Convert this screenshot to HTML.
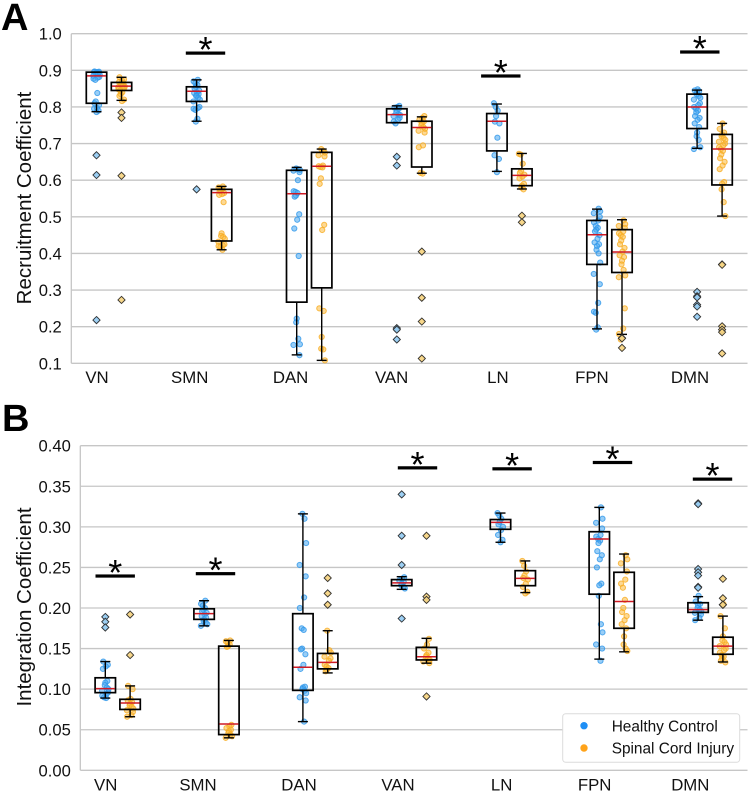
<!DOCTYPE html>
<html lang="en">
<head>
<meta charset="utf-8">
<title>Recruitment and Integration Coefficients</title>
<style>
html,body{margin:0;padding:0;background:#fff;}
body{width:750px;height:794px;overflow:hidden;}
svg{display:block;filter:blur(0.35px);font-family:"Liberation Sans",sans-serif;}
</style>
</head>
<body>
<svg id="chart" width="750" height="794" viewBox="0 0 750 794" xmlns="http://www.w3.org/2000/svg">
  <text x="1" y="30" font-size="38" font-weight="bold" fill="#000">A</text>
  <text x="2" y="431" font-size="38" font-weight="bold" fill="#000">B</text>
  <text transform="translate(31,198) rotate(-90)" text-anchor="middle" font-size="20.5" fill="#111">Recruitment Coefficient</text>
  <text transform="translate(31,607) rotate(-90)" text-anchor="middle" font-size="20.5" fill="#111">Integration Coefficient</text>
  <g id="panelA"></g>
  <g id="panelB"></g>
  <g>
    <rect x="562.7" y="713.7" width="177" height="48.6" rx="3" fill="#fff" stroke="#dcdcdc" stroke-width="1"/>
    <circle cx="584" cy="725.7" r="3.7" fill="#1f8ff5"/>
    <text x="611.7" y="731.3" font-size="15.4" fill="#111">Healthy Control</text>
    <circle cx="584" cy="748" r="3.7" fill="#ffa31a"/>
    <text x="611.7" y="753.6" font-size="15.4" fill="#111">Spinal Cord Injury</text>
  </g>
</svg>
<script>
const categories = ["VN","SMN","DAN","VAN","LN","FPN","DMN"];

const recruitTicks = [0.1,0.2,0.3,0.4,0.5,0.6,0.7,0.8,0.9,1.0];
const integrationTicks = [0,0.05,0.10,0.15,0.20,0.25,0.30,0.35,0.40];

// box summaries: [whisker low, q1, median, q3, whisker high]
const recruitHealthyBoxes = [
  [.787,.81,.885,.895,.895],[.761,.815,.843,.855,.874],[.123,.267,.563,.627,.635],
  [.757,.757,.779,.795,.803],[.624,.68,.761,.782,.808],[.194,.37,.451,.49,.521],[.687,.741,.8,.835,.846]];
const recruitInjuryBoxes = [
  [.818,.845,.857,.867,.881],[.41,.434,.566,.575,.583],[.108,.306,.638,.676,.685],
  [.619,.636,.744,.761,.773],[.576,.585,.613,.631,.673],[.179,.348,.404,.465,.492],[.502,.587,.685,.725,.755]];
const integrationHealthyBoxes = [
  [.089,.0957,.1006,.114,.134],[.178,.186,.193,.199,.209],[.06,.0985,.127,.193,.316],
  [.223,.2275,.231,.235,.2386],[.281,.297,.3055,.309,.317],[.137,.217,.285,.294,.324],[.185,.1946,.198,.2065,.214]];
const integrationInjuryBoxes = [
  [.066,.075,.083,.0875,.104],[.04,.044,.057,.153,.16],[.12,.125,.133,.144,.172],
  [.132,.136,.14,.1515,.1626],[.219,.2275,.2365,.246,.258],[.146,.175,.208,.244,.2665],[.1335,.143,.153,.164,.19]];

const recruitHealthyOutliers = [[.668,.614,.218],[.575],[],[.664,.64,.196,.192,.165],[],[],[.295,.283,.28,.26,.255,.227]];
const recruitInjuryOutliers = [[.785,.77,.612,.273],[],[],[.405,.279,.214,.113],[.503,.485],[.169,.168,.142],[.37,.369,.201,.192,.185,.127]];
const integrationHealthyOutliers = [[.189,.183,.176],[],[],[.34,.289,.253,.187],[],[],[.329,.328,.248,.244,.24,.226,.225]];
const integrationInjuryOutliers = [[.192,.142],[],[.237,.218,.204],[.289,.214,.21,.091],[],[],[.236,.212,.204,.204]];

const recruitHealthyPoints = [
  [.897,.896,.895,.895,.894,.893,.892,.89,.888,.885,.882,.88,.877,.874,.838,.815,.81,.805,.797,.795,.79,.786],
  [.874,.87,.865,.86,.855,.85,.845,.84,.838,.835,.832,.83,.825,.82,.815,.8,.797,.795,.792,.768,.76],
  [.632,.63,.628,.626,.622,.6,.57,.568,.565,.558,.555,.507,.492,.468,.393,.222,.212,.167,.152,.15,.122],
  [.803,.8,.798,.795,.79,.785,.78,.778,.775,.77,.765,.76,.755],
  [.81,.8,.79,.775,.76,.755,.716,.668,.658,.622],
  [.522,.515,.51,.5,.49,.485,.475,.47,.465,.46,.45,.44,.43,.425,.42,.41,.4,.375,.344,.316,.265,.241,.238,.198,.192],
  [.848,.845,.843,.84,.835,.83,.825,.82,.81,.805,.8,.795,.79,.785,.775,.77,.765,.755,.745,.73,.72,.71,.69,.685]];
const recruitInjuryPoints = [
  [.881,.875,.872,.868,.865,.862,.86,.858,.856,.854,.852,.85,.848,.845,.84,.835,.83,.82,.816],
  [.583,.58,.578,.576,.572,.57,.565,.562,.56,.54,.455,.448,.445,.44,.432,.425,.422,.42,.418,.41],
  [.685,.68,.675,.668,.665,.64,.638,.636,.635,.605,.59,.478,.464,.25,.243,.172,.14,.138,.108],
  [.775,.77,.765,.76,.755,.75,.745,.74,.735,.73,.695,.69,.62,.618],
  [.672,.67,.645,.625,.62,.615,.61,.605,.59,.585,.58,.575],
  [.49,.48,.475,.47,.46,.455,.45,.445,.435,.425,.415,.405,.395,.39,.38,.37,.355,.34,.335,.25,.195,.18,.165],
  [.755,.74,.73,.725,.72,.715,.71,.705,.7,.695,.69,.685,.68,.67,.66,.65,.64,.63,.595,.59,.575,.54,.502]];
const integrationHealthyPoints = [
  [.134,.13,.128,.125,.11,.108,.105,.102,.1,.098,.096,.094,.092,.09,.089],
  [.209,.205,.203,.2,.198,.196,.194,.192,.19,.188,.186,.184,.182,.18,.178],
  [.316,.31,.28,.253,.239,.213,.2,.175,.173,.15,.149,.143,.13,.125,.103,.102,.1,.098,.095,.09,.086,.06],
  [.238,.236,.234,.232,.23,.228,.226,.224],
  [.317,.314,.31,.306,.303,.3,.296,.29,.284,.281],
  [.324,.31,.305,.298,.29,.288,.285,.283,.28,.27,.265,.26,.25,.23,.228,.215,.18,.17,.155,.15,.135],
  [.215,.208,.205,.203,.2,.198,.196,.194,.192,.188,.185]];
const integrationInjuryPoints = [
  [.104,.1,.088,.086,.084,.082,.08,.078,.076,.074,.072,.068,.066],
  [.16,.159,.158,.155,.153,.152,.056,.054,.052,.05,.048,.046,.044,.042,.04],
  [.172,.148,.145,.14,.138,.135,.13,.128,.126,.124,.122],
  [.162,.155,.15,.145,.142,.14,.138,.136,.134,.132],
  [.258,.252,.245,.24,.237,.235,.23,.226,.22,.218],
  [.265,.26,.255,.245,.235,.23,.225,.21,.2,.195,.19,.185,.18,.175,.165,.155,.15,.147],
  [.205,.19,.175,.165,.16,.158,.155,.153,.15,.148,.145,.142,.14,.138,.135,.133]];

// significance markers: category index and bar level in data units
const recruitSigCategories = [1,4,6];
const recruitSigLevels = [.947,.8845,.95];
const integrationSigCategories = [0,1,3,4,5,6];
const integrationSigLevels = [.2394,.2423,.3727,.3715,.3793,.3588];

const NS = "http://www.w3.org/2000/svg";
const COLORS = {
  healthy:{stroke:"#2f97ea",fill:"rgba(70,165,240,0.55)",dia:"#9fd0f2"},
  injury:{stroke:"#f8ad22",fill:"rgba(252,185,60,0.55)",dia:"#f6d789"}
};
const jitter = [-2,1.2,-0.5,2.5,-3,1.6,0.5,-1.2,3.2,-2.4,0.8,-3.2,2,-0.8,2.8,0];

function el(parent, tag, attrs, text){
  const n = document.createElementNS(NS, tag);
  for (const k in attrs) n.setAttribute(k, attrs[k]);
  if (text !== undefined) n.textContent = text;
  parent.appendChild(n);
  return n;
}

function drawPanel(cfg){
  const g = document.getElementById(cfg.id);
  const yScale = v => cfg.y0 - (v - cfg.yMin) / (cfg.yMax - cfg.yMin) * (cfg.y0 - cfg.y1);
  const catX = i => cfg.cx0 + cfg.cStep * i;

  cfg.ticks.forEach(t => {
    const y = yScale(t);
    const line = el(g, "line", {x1:cfg.left, x2:747.5, y1:y, y2:y, stroke:"#c6c6c6", "stroke-width":1.3});
    
    
    const lab = el(g, "text", {x:cfg.left - 9.5, y:y + 6, "text-anchor":"end", "font-size":16.6, fill:"#111"}, t.toFixed(cfg.dec));
    
    
  });
  const axis = el(g, "line", {x1:cfg.left, x2:cfg.left, y1:cfg.y1, y2:cfg.y0, stroke:"#c6c6c6", "stroke-width":1.3});
  
  

  categories.forEach((c,i) => {
    const lab = el(g, "text", {x:catX(i) + cfg.labelNudge[i], y:cfg.labelY, "text-anchor":"middle", "font-size":16.8, fill:"#111"}, c);
    
    
  });

  [["healthy",-1,cfg.hBoxes,cfg.hPts,cfg.hOut],["injury",1,cfg.iBoxes,cfg.iPts,cfg.iOut]].forEach(([grp,side,boxes,pts,outs]) => {
    const col = COLORS[grp];
    categories.forEach((c,i) => {
      const x = catX(i) + side * cfg.offset;
      pts[i].forEach((v,j) => {
        const p = el(g, "circle", {cx:x + jitter[(j*3+i) % jitter.length], cy:yScale(v), r:2.6, fill:col.fill, stroke:col.stroke, "stroke-width":1, "stroke-opacity":.8});
        
        
      });
      const [lo,q1,med,q3,hi] = boxes[i];
      const w = el(g, "line", {x1:x, x2:x, y1:yScale(hi), y2:yScale(q3), stroke:"#000", "stroke-width":1.4});
      
      
      const w2 = el(g, "line", {x1:x, x2:x, y1:yScale(q1), y2:yScale(lo), stroke:"#000", "stroke-width":1.4});
      
      
      [hi,lo].forEach(v => {
        const cap = el(g, "line", {x1:x-5, x2:x+5, y1:yScale(v), y2:yScale(v), stroke:"#000", "stroke-width":1.4});
        
        
      });
      const b = el(g, "rect", {x:x-10.2, width:20.4, y:yScale(q3), height:yScale(q1)-yScale(q3), fill:"none", stroke:"#000", "stroke-width":1.7});
      
      
      const m = el(g, "line", {x1:x-9.5, x2:x+9.5, y1:yScale(med), y2:yScale(med), stroke:"#cf1a25", "stroke-width":1.5});
      
      
      outs[i].forEach(v => {
        const y = yScale(v), r = 3.6;
        const halo = el(g, "circle", {cx:x, cy:y, r:2.6, fill:col.fill, stroke:col.stroke, "stroke-width":1, "stroke-opacity":.8});
        
        
        const d = el(g, "polygon", {points:`${x},${y-r} ${x+r},${y} ${x},${y+r} ${x-r},${y}`, fill:col.dia, "fill-opacity":.85, stroke:"#333", "stroke-width":.9});
        
        
      });
    });
  });

  cfg.sigCats.forEach((ci,k) => {
    const x = catX(ci) + cfg.sigNudge[k];
    const y = yScale(cfg.sigVals[k]);
    const bar = el(g, "rect", {x:x-19.7, y:y-1.6, width:39.4, height:3.2, fill:"#000"});
    
    
    const star = el(g, "text", {x:x, y:y+9, "text-anchor":"middle", "font-size":36, fill:"#000"}, "*");
    
    
  });
}

drawPanel({
  id:"panelA", left:71.3, y0:363.3, y1:33.7, yMin:.1, yMax:1.0, ticks:recruitTicks, dec:1,
  cx0:109, cStep:100.1, offset:12.5, labelY:383,
  labelNudge:[-12,-19.4,-18.6,-17.7,-11.5,-17.6,-19.6],
  hBoxes:recruitHealthyBoxes, iBoxes:recruitInjuryBoxes,
  hPts:recruitHealthyPoints, iPts:recruitInjuryPoints,
  hOut:recruitHealthyOutliers, iOut:recruitInjuryOutliers,
  sigCats:recruitSigCategories, sigVals:recruitSigLevels, sigNudge:[-3.6,-8.6,-9.8]
});
drawPanel({
  id:"panelB", left:80.3, y0:770.3, y1:445.7, yMin:0, yMax:.4, ticks:integrationTicks, dec:2,
  cx0:117.7, cStep:98.8, offset:12.4, labelY:790.7,
  labelNudge:[-12,-18.5,-16.3,-16.1,-11.3,-17.1,-20.2],
  hBoxes:integrationHealthyBoxes, iBoxes:integrationInjuryBoxes,
  hPts:integrationHealthyPoints, iPts:integrationInjuryPoints,
  hOut:integrationHealthyOutliers, iOut:integrationInjuryOutliers,
  sigCats:integrationSigCategories, sigVals:integrationSigLevels, sigNudge:[-2.5,-1,3.4,-.8,.8,2]
});
</script>
</body>
</html>
